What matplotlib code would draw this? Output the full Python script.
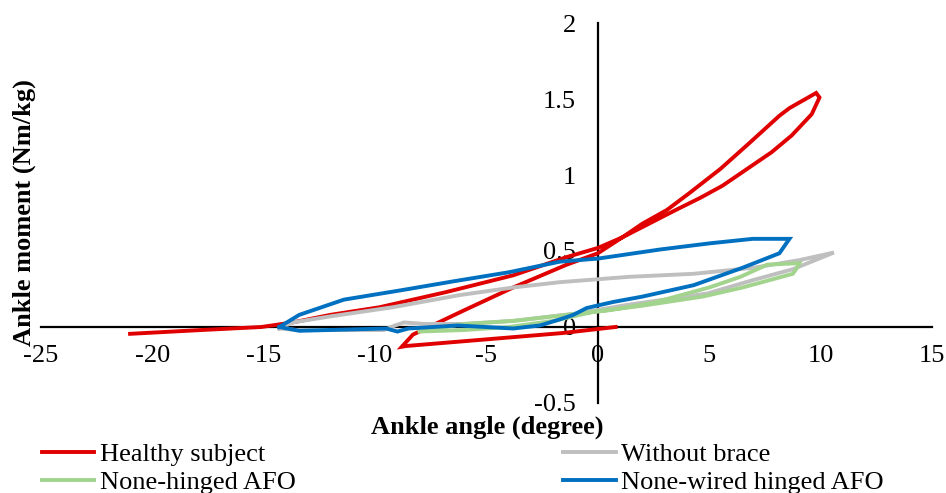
"""
Ankle moment vs ankle angle loops for the four walking conditions.
Saves out.png
"""

import matplotlib
matplotlib.use("Agg")
import matplotlib.pyplot as plt

plt.rcParams["font.family"] = ["Liberation Serif", "DejaVu Serif"]

# values (degree, Nm/kg)
healthy_angle = [0.8, -1.6, -5.3, -8.6, -8.8, -8.3, -6.0, -3.8, -1.4, 0.0, 1.1, 2.0,
                 3.1, 4.1, 5.5, 6.8, 8.15, 8.6, 9.8, 9.95, 9.6, 8.7, 7.8, 6.7, 5.6,
                 4.6, 3.5, 2.3, 1.1, 0.0, -1.4, -3.8, -6.8, -9.8, -12.0, -13.7,
                 -15.1, -17.8, -21.0]
healthy_moment = [0.0, -0.04, -0.085, -0.125, -0.13, -0.05, 0.11, 0.26, 0.41, 0.485,
                  0.59, 0.68, 0.77, 0.88, 1.04, 1.21, 1.39, 1.44, 1.54, 1.51, 1.40,
                  1.26, 1.15, 1.04, 0.93, 0.85, 0.77, 0.68, 0.59, 0.52, 0.46, 0.34,
                  0.23, 0.13, 0.08, 0.03, 0.0, -0.02, -0.045]

nobrace_angle = [-14.3, -13.7, -12.0, -9.2, -6.2, -3.8, -1.7, 1.4, 4.3, 7.0, 9.05,
                 10.6, 8.75, 7.0, 4.9, 2.5, 1.3, -0.9, -3.8, -6.0, -7.8, -8.7, -9.1,
                 -9.6, -12.0, -13.5, -14.3]
nobrace_moment = [-0.01, 0.03, 0.07, 0.13, 0.21, 0.26, 0.295, 0.33, 0.35, 0.39, 0.44,
                  0.49, 0.38, 0.31, 0.22, 0.17, 0.145, 0.09, 0.04, 0.02, 0.02, 0.03,
                  0.01, -0.02, -0.02, -0.02, -0.01]

nonhinged_angle = [-8.0, -6.0, -3.8, -1.4, 0.5, 2.5, 5.0, 6.4, 7.6, 9.05, 8.9, 8.75,
                   6.5, 4.7, 2.0, -0.2, -2.0, -4.0, -6.0, -8.0]
nonhinged_moment = [-0.025, 0.02, 0.04, 0.08, 0.11, 0.16, 0.26, 0.33, 0.41, 0.42,
                    0.38, 0.35, 0.26, 0.20, 0.14, 0.10, 0.04, 0.0, -0.02, -0.03]

wired_angle = [-14.3, -13.4, -11.4, -8.9, -6.5, -4.0, -1.7, 0.0, 2.8, 5.0, 6.95, 8.6,
               8.15, 6.5, 4.3, 2.0, 0.7, -0.5, -1.1, -1.7, -2.6, -3.8, -6.3, -8.5,
               -9.0, -9.5, -13.4, -14.3]
wired_moment = [0.0, 0.08, 0.18, 0.24, 0.30, 0.36, 0.43, 0.45, 0.51, 0.55, 0.58, 0.58,
                0.485, 0.39, 0.275, 0.20, 0.165, 0.125, 0.08, 0.05, 0.01, -0.01, 0.01,
                -0.01, -0.03, -0.01, -0.025, 0.0]

series = [
    ("Healthy subject", healthy_angle, healthy_moment, "#E00000"),
    ("Without brace", nobrace_angle, nobrace_moment, "#BFBFBF"),
    ("None-hinged AFO", nonhinged_angle, nonhinged_moment, "#A3D48E"),
    ("None-wired hinged AFO", wired_angle, wired_moment, "#0070C0"),
]

x_ticks = [-25, -20, -15, -10, -5, 0, 5, 10, 15]
y_ticks = [-0.5, 0, 0.5, 1, 1.5, 2]


def main():
    fig = plt.figure(figsize=(9.46, 4.93), dpi=100)
    ax = fig.add_axes([0.0433, 0.1826, 0.9419, 0.7707])

    lines = []
    for label, xs, ys, color in series:
        ln, = ax.plot(xs, ys, color=color, lw=2.8, label=label, zorder=3,
                      solid_joinstyle="miter")
        lines.append(ln)

    ax.set_xlim(-25, 15)
    ax.set_ylim(-0.5, 2)
    ax.set_xticks(x_ticks)
    ax.set_yticks(y_ticks)
    ax.set_xticklabels([str(t) for t in x_ticks])
    ax.set_yticklabels(["-0.5", "0", "0.5", "1", "1.5", "2"])

    # axes cross at the origin, like the spreadsheet chart
    ax.spines["left"].set_position(("data", 0))
    ax.spines["bottom"].set_position(("data", 0))
    ax.spines["top"].set_visible(False)
    ax.spines["right"].set_visible(False)
    for side in ["left", "bottom"]:
        ax.spines[side].set_linewidth(1.6)
        ax.spines[side].set_zorder(2)
    ax.tick_params(axis="x", length=0, pad=13, labelsize=19)
    ax.tick_params(axis="y", length=0, pad=16, labelsize=19)
    ax.patch.set_visible(False)

    fig.text(0.515, 0.134, "Ankle angle (degree)", ha="center", va="center",
             fontsize=19, fontweight="bold")
    fig.text(0.026, 0.568, "Ankle moment (Nm/kg)", ha="center", va="center",
             rotation=90, fontsize=19, fontweight="bold")

    # legend fills column-wise, so reorder to read row by row
    order = [0, 2, 1, 3]
    fig.legend([lines[i] for i in order], [series[i][0] for i in order],
               loc="upper left", bbox_to_anchor=(0.044, 0.1014), ncol=2,
               frameon=False, fontsize=19, handlelength=2.0, handletextpad=0.2,
               columnspacing=10.15, labelspacing=0.17, borderpad=0, borderaxespad=0)

    fig.savefig("out.png", dpi=100)


if __name__ == "__main__":
    main()
